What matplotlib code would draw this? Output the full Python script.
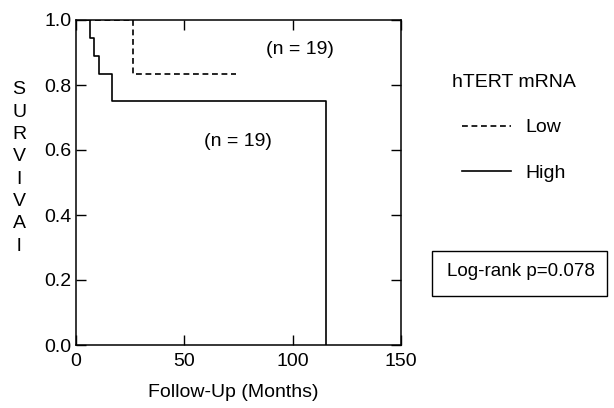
import matplotlib
matplotlib.use("Agg")
import matplotlib.pyplot as plt
from matplotlib.patches import Rectangle

# Data
high_t = [0, 6.5, 8.5, 10.5, 16.5, 115.5]
high_s = [1.0, 0.944, 0.889, 0.833, 0.75, 0.0]
low_t = [0, 26.5, 74.0]
low_s = [1.0, 0.833, 0.833]
xticks = [0, 50, 100, 150]
yticks = [0.0, 0.2, 0.4, 0.6, 0.8, 1.0]
ylabel_letters = list("SURVIVAl")

plt.rcParams['font.family'] = ['Liberation Sans', 'DejaVu Sans']
FS = 14

W, H = 614, 408
fig = plt.figure(figsize=(W / 100, H / 100), dpi=100)
ax = fig.add_axes([76 / W, 1 - 345 / H, 325 / W, 325 / H])

lw = 1.2
ax.step(high_t, high_s, where='post', color='black', lw=lw, label='High')
ax.step(low_t, low_s, where='post', color='black', lw=lw, ls=(0, (3.5, 2.2)), label='Low')

ax.set_xlim(0, 150)
ax.set_ylim(0, 1.0)
ax.set_xticks(xticks)
ax.set_xticklabels([str(t) for t in xticks])
ax.set_yticks(yticks)
ax.set_yticklabels([f"{t:.1f}" for t in yticks])
ax.tick_params(direction='in', length=7, width=1.0, labelsize=FS,
               top=True, right=True)
ax.tick_params(axis='x', pad=5.5)
ax.tick_params(axis='y', pad=3.5)
for s in ax.spines.values():
    s.set_linewidth(1.1)

ax.text(103.5, 0.91, "(n = 19)", fontsize=FS, ha='center', va='center')
ax.text(74.8, 0.625, "(n = 19)", fontsize=FS, ha='center', va='center')

ax.set_xlabel("Follow-Up (Months)", fontsize=FS)
ax.xaxis.set_label_coords(0.483, -0.12)

# vertical stacked y label
y0 = 90
for i, ch in enumerate(ylabel_letters):
    fig.text(19 / W, 1 - (y0 + i * 22.3) / H, ch, fontsize=FS,
             ha='center', va='center')

# legend
h_low = ax.get_lines()[1]
h_high = ax.get_lines()[0]
leg = ax.legend([h_low, h_high], ['Low', 'High'], title='hTERT mRNA',
                loc='upper left', bbox_to_anchor=(452 / W, 1 - 74 / H),
                bbox_transform=fig.transFigure, frameon=False,
                fontsize=FS, title_fontsize=FS, handlelength=2.5,
                handletextpad=0.72, labelspacing=1.43, borderpad=0,
                borderaxespad=0)
leg._legend_box.align = "center"

# log-rank box
fig.patches.append(Rectangle((432 / W, 1 - 296 / H), 175 / W, 45 / H,
                             transform=fig.transFigure, fill=False,
                             edgecolor='black', lw=1.0))
fig.text(447 / W, 1 - 271 / H, "Log-rank p=0.078", fontsize=13.5,
         ha='left', va='center')

fig.savefig("out.png", dpi=100)
